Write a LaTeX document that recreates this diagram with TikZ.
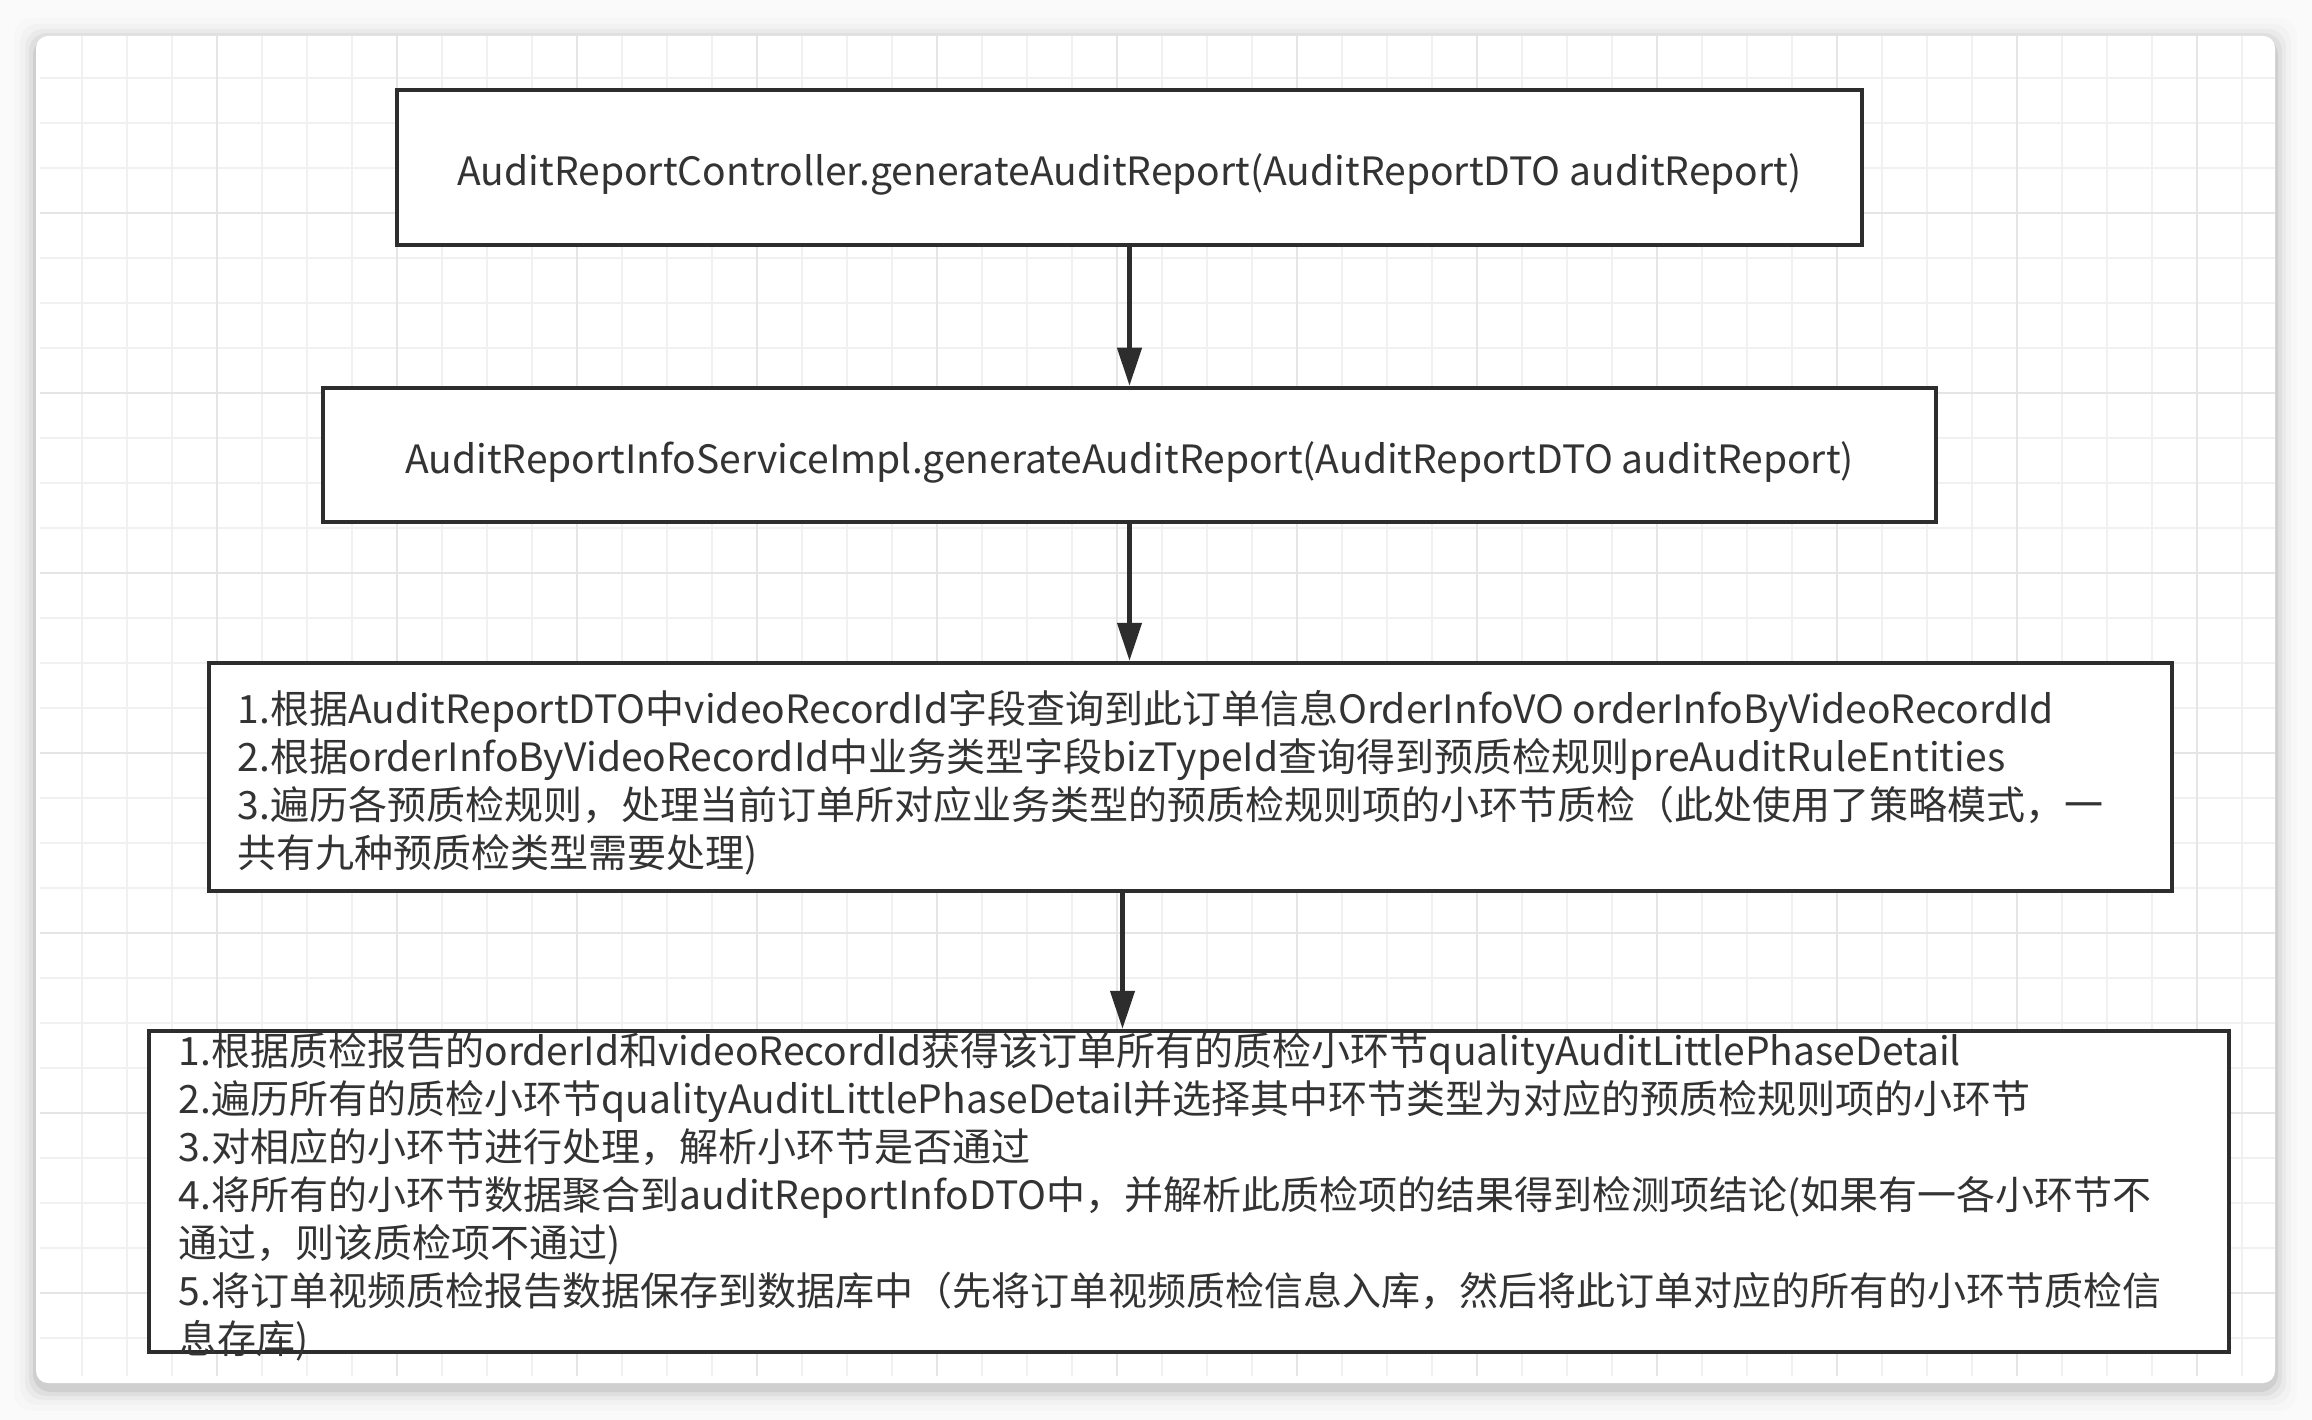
\documentclass[tikz,border=0pt]{standalone}
\usepackage{fontspec}
\setmainfont{Noto Sans CJK SC}
\definecolor{inkgray}{RGB}{45, 45, 45}
\definecolor{textgray}{RGB}{51, 51, 51}
\definecolor{gridlight}{RGB}{241, 241, 241}
\definecolor{griddark}{RGB}{229, 229, 229}
\definecolor{pagegray}{RGB}{250, 250, 250}
\usepackage{tikz}
\usetikzlibrary{arrows.meta, positioning, calc}

\begin{document}
\begin{tikzpicture}[
  x=1pt, y=-1pt,
  callbox/.style={draw=inkgray, line width=4.5pt, inner sep=0pt},
  calltext/.style={text=textgray, font=\fontsize{39}{48}\selectfont, align=left, inner sep=0pt},
  flow/.style={draw=inkgray, line width=4.5pt, -{Triangle[length=38pt, width=24pt]}}
]
  \useasboundingbox (0,0) rectangle (2312,1420);
  \fill[pagegray] (0,0) rectangle (2312,1420);
  \foreach \s/\o in {22/0.012, 16/0.02, 11/0.03, 7/0.045, 3/0.07}
    \fill[black, opacity=\o, rounded corners=18pt] (36-\s,40-\s) rectangle (2275+\s,1389+\s);
  \fill[white, rounded corners=12pt] (36,36) rectangle (2275,1383);
  \begin{scope}
    \clip (40,36) rectangle (2275,1376);
    \foreach \gx in {37,82,...,2275}
      \draw[gridlight, line width=2pt] (\gx,36) -- (\gx,1376);
    \foreach \gy in {33,78,...,1383}
      \draw[gridlight, line width=2pt] (40,\gy) -- (2275,\gy);
    \foreach \gx in {37,217,...,2275}
      \draw[griddark, line width=2.5pt] (\gx,36) -- (\gx,1376);
    \foreach \gy in {33,213,...,1383}
      \draw[griddark, line width=2.5pt] (40,\gy) -- (2275,\gy);
  \end{scope}

  \node[callbox, calltext, fill=white, text height=41pt, text depth=4pt, minimum width=1465pt, minimum height=155pt] (ctrl) at (1129.5,167.5)
    {AuditReportController.generateAuditReport(AuditReportDTO auditReport)};
  \node[callbox, calltext, fill=white, text height=41pt, text depth=4pt, minimum width=1613pt, minimum height=134pt] (svc) at (1129.5,455)
    {AuditReportInfoServiceImpl.generateAuditReport(AuditReportDTO auditReport)};
  \node[callbox, fill=white, minimum width=1963pt, minimum height=228pt] (query) at (1190.5,777) {};
  \node[calltext, anchor=west] (querytext) at ([xshift=31pt, yshift=-6pt]query.west) {
    1.根据AuditReportDTO中videoRecordId字段查询到此订单信息OrderInfoVO orderInfoByVideoRecordId\\
    2.根据orderInfoByVideoRecordId中业务类型字段bizTypeId查询得到预质检规则preAuditRuleEntities\\
    3.遍历各预质检规则，处理当前订单所对应业务类型的预质检规则项的小环节质检（此处使用了策略模式，一\\
    共有九种预质检类型需要处理)
  };
  \node[callbox, fill=white, minimum width=2080pt, minimum height=321pt] (detail) at (1189,1191.5) {};
  \node[calltext, anchor=west] (detailtext) at ([xshift=32pt, yshift=-5pt]detail.west) {
    1.根据质检报告的orderId和videoRecordId获得该订单所有的质检小环节qualityAuditLittlePhaseDetail\\
    2.遍历所有的质检小环节qualityAuditLittlePhaseDetail并选择其中环节类型为对应的预质检规则项的小环节\\
    3.对相应的小环节进行处理，解析小环节是否通过\\
    4.将所有的小环节数据聚合到auditReportInfoDTO中，并解析此质检项的结果得到检测项结论(如果有一各小环节不\\
    通过，则该质检项不通过)\\
    5.将订单视频质检报告数据保存到数据库中（先将订单视频质检信息入库，然后将此订单对应的所有的小环节质检信\\
    息存库)
  };

  \draw[flow] (ctrl) -- (svc);
  \draw[flow] (svc) -- (svc |- query.north);
  \draw[flow] ([xshift=-68pt, yshift=4pt]query.south) -- ([xshift=-68pt]query.south |- detail.north);
\end{tikzpicture}
\end{document}
